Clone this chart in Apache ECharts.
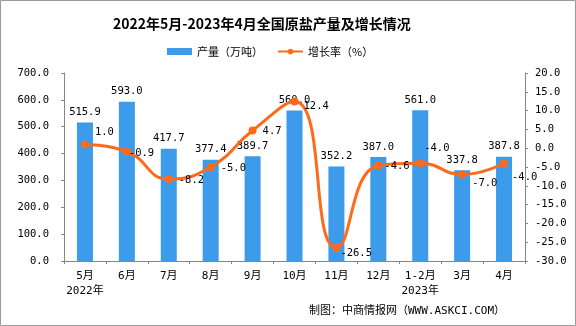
<!DOCTYPE html>
<html><head><meta charset="utf-8">
<script src="https://cdn.jsdelivr.net/npm/echarts@6/dist/echarts.min.js"></script>
<style>html,body{margin:0;padding:0;background:#fff}#c{width:576px;height:326px}</style>
</head><body><div id="c"></div>
<script>
const categories = ['5月\n2022年','6月','7月','8月','9月','10月','11月','12月','1-2月\n2023年','3月','4月'];
const production = [515.9, 593.0, 417.7, 377.4, 389.7, 560.0, 352.2, 387.0, 561.0, 337.8, 387.8];
const growth = [1.0, -0.9, -8.2, -5.0, 4.7, 12.4, -26.5, -4.6, -4.0, -7.0, -4.0];
const leftTicks = {min: 0, max: 700, interval: 100};
const rightTicks = {min: -30, max: 20, interval: 5};

const FONT = '"DejaVu Sans Mono", "Noto Sans CJK SC", monospace';
const CJK = '"Noto Sans CJK SC", sans-serif';
const lineLabelOffsets = [[2,-12],[-6,2],[2,1],[2,1],[2,1],[1,5],[-4,5],[-2,1],[-4,-15],[2,9],[0,14]];

const chart = echarts.init(document.getElementById('c'));
chart.setOption({
  animation: false,
  title: {text: '2022年5月-2023年4月全国原盐产量及增长情况', left: 108, top: 12,
    textStyle: {fontSize: 14, fontWeight: 'bold', color: '#000', fontFamily: CJK}},
  legend: {top: 41, left: 162, itemGap: 14, itemWidth: 25, itemHeight: 7,
    textStyle: {fontSize: 11, color: '#000', fontFamily: CJK},
    data: [{name: '产量（万吨）', icon: 'rect'}, {name: '增长率（%）'}]},
  grid: {left: 64, right: 51, top: 73, bottom: 65},
  xAxis: {type: 'category', data: categories, boundaryGap: true,
    axisLine: {lineStyle: {color: '#868686'}},
    axisTick: {show: true, length: 3, lineStyle: {color: '#868686'}},
    axisLabel: {interval: 0, color: '#000', fontSize: 11, lineHeight: 15, margin: 8, fontFamily: FONT}},
  yAxis: [
    {type: 'value', min: leftTicks.min, max: leftTicks.max, interval: leftTicks.interval,
      splitLine: {show: false},
      axisLine: {show: true, lineStyle: {color: '#868686'}},
      axisTick: {show: true, length: 3, lineStyle: {color: '#868686'}},
      axisLabel: {color: '#000', fontSize: 10.5, margin: 15, fontFamily: FONT, formatter: v => v.toFixed(1)}},
    {type: 'value', min: rightTicks.min, max: rightTicks.max, interval: rightTicks.interval,
      splitLine: {show: false},
      axisLine: {show: true, lineStyle: {color: '#868686'}},
      axisTick: {show: true, length: 3, lineStyle: {color: '#868686'}},
      axisLabel: {color: '#000', fontSize: 10.5, margin: 10, fontFamily: FONT, formatter: v => v.toFixed(1)}}
  ],
  series: [
    {name: '产量（万吨）', type: 'bar', data: production, barWidth: 16,
      itemStyle: {color: '#3D9BEB'},
      label: {show: true, position: 'top', distance: 5, color: '#000', fontSize: 10.5, fontFamily: FONT,
        formatter: p => p.value.toFixed(1)}},
    {name: '增长率（%）', type: 'line', yAxisIndex: 1, smooth: 0.5,
      data: growth.map((v, i) => ({value: v, label: {offset: lineLabelOffsets[i]}})),
      symbol: 'circle', symbolSize: 8,
      lineStyle: {color: '#FF6A1A', width: 3}, itemStyle: {color: '#FF6A1A'},
      label: {show: true, position: 'right', distance: 4, color: '#000', fontSize: 10.5, fontFamily: FONT,
        formatter: p => p.value.toFixed(1)}}
  ],
  graphic: [
    {type: 'rect', shape: {x: 0.5, y: 0.5, width: 575, height: 325}, style: {fill: 'none', stroke: '#999', lineWidth: 1}, silent: true},
    {type: 'text', right: 71, top: 306, style: {text: '制图：中商情报网（WWW.ASKCI.COM）', fill: '#000', fontSize: 11, fontFamily: FONT}}
  ]
});
</script></body></html>
